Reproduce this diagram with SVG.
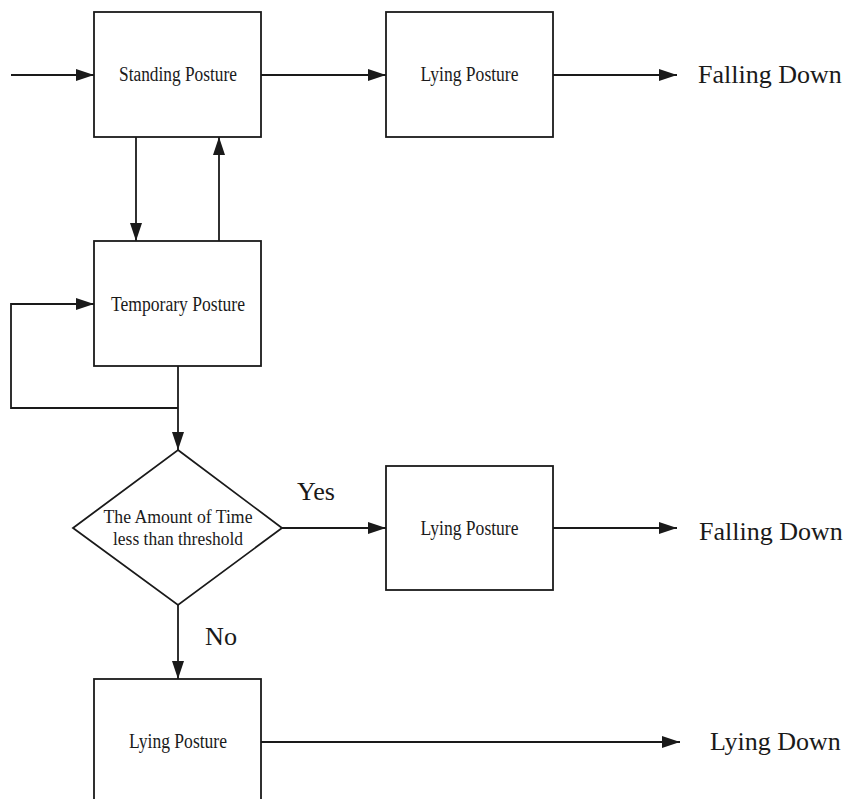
<svg xmlns="http://www.w3.org/2000/svg" width="845" height="799" viewBox="0 0 845 799">
<style>
.box{fill:#fff;stroke:#1a1a1a;stroke-width:1.8}
.ln{fill:none;stroke:#1a1a1a;stroke-width:1.8}
.lbl{font-family:"Liberation Serif","Times New Roman",serif;font-size:20px;fill:#1a1a1a;text-anchor:middle}
.sm{font-size:18px}
.big{font-family:"Liberation Serif","Times New Roman",serif;font-size:26px;fill:#1a1a1a}
</style>
<defs>
<marker id="ah" markerUnits="userSpaceOnUse" markerWidth="19" markerHeight="13" refX="18" refY="6.5" orient="auto">
<path d="M0,0.5 L18,6.5 L0,12.5 z" fill="#1a1a1a"/>
</marker>
</defs>
<g id="connectors">
<line class="ln" x1="11" y1="75" x2="94" y2="75" marker-end="url(#ah)"/>
<line class="ln" x1="261" y1="75" x2="386" y2="75" marker-end="url(#ah)"/>
<line class="ln" x1="553" y1="75" x2="677" y2="75" marker-end="url(#ah)"/>
<line class="ln" x1="136" y1="137" x2="136" y2="241" marker-end="url(#ah)"/>
<line class="ln" x1="219" y1="241" x2="219" y2="137" marker-end="url(#ah)"/>
<polyline class="ln" points="178,408 11,408 11,304 94,304" marker-end="url(#ah)"/>
<line class="ln" x1="178" y1="366" x2="178" y2="450" marker-end="url(#ah)"/>
<line class="ln" x1="282" y1="528" x2="386" y2="528" marker-end="url(#ah)"/>
<line class="ln" x1="553" y1="528" x2="677" y2="528" marker-end="url(#ah)"/>
<line class="ln" x1="178" y1="605" x2="178" y2="679" marker-end="url(#ah)"/>
<line class="ln" x1="261" y1="742" x2="680" y2="742" marker-end="url(#ah)"/>
<text class="big" x="297" y="500" textLength="38" lengthAdjust="spacingAndGlyphs">Yes</text>
<text class="big" x="205" y="645" textLength="32" lengthAdjust="spacingAndGlyphs">No</text>
</g>
<g id="standing">
<rect class="box" x="94" y="12" width="167" height="125"/>
<text class="lbl" x="178" y="81" textLength="118" lengthAdjust="spacingAndGlyphs">Standing Posture</text>
</g>
<g id="lying1">
<rect class="box" x="386" y="12" width="167" height="125"/>
<text class="lbl" x="469.5" y="81" textLength="98" lengthAdjust="spacingAndGlyphs">Lying Posture</text>
</g>
<g id="falling1">
<text class="big" x="698" y="83">Falling Down</text>
</g>
<g id="temporary">
<rect class="box" x="94" y="241" width="167" height="125"/>
<text class="lbl" x="178" y="311" textLength="134" lengthAdjust="spacingAndGlyphs">Temporary Posture</text>
</g>
<g id="decision">
<polygon class="box" points="178,450 282,528 178,605 73,528"/>
<text class="lbl sm" x="178" y="523" textLength="149" lengthAdjust="spacingAndGlyphs">The Amount of Time</text>
<text class="lbl sm" x="178" y="545" textLength="130" lengthAdjust="spacingAndGlyphs">less than threshold</text>
</g>
<g id="lying2">
<rect class="box" x="386" y="466" width="167" height="124"/>
<text class="lbl" x="469.5" y="535" textLength="98" lengthAdjust="spacingAndGlyphs">Lying Posture</text>
</g>
<g id="falling2">
<text class="big" x="699" y="540">Falling Down</text>
</g>
<g id="lying3">
<rect class="box" x="94" y="679" width="167" height="130"/>
<text class="lbl" x="178" y="748" textLength="98" lengthAdjust="spacingAndGlyphs">Lying Posture</text>
</g>
<g id="lyingdown">
<text class="big" x="710" y="750">Lying Down</text>
</g>
</svg>
